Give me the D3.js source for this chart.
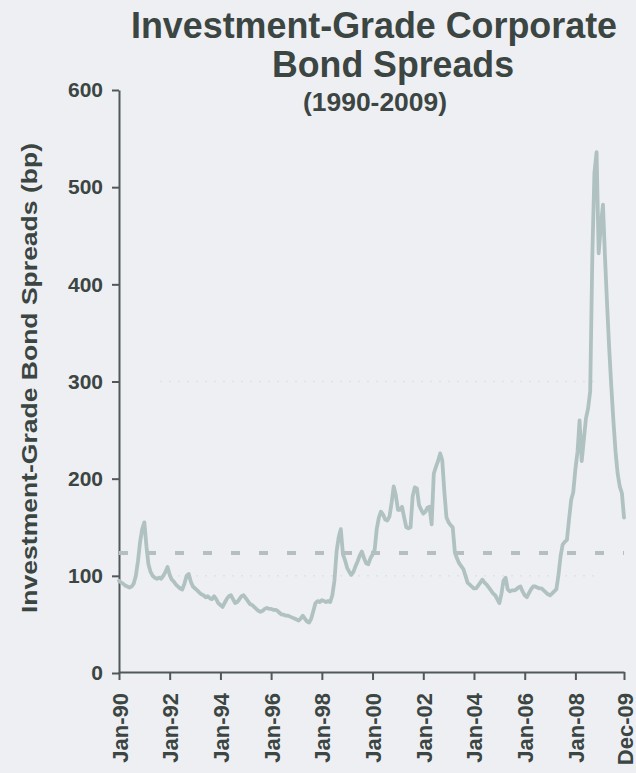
<!DOCTYPE html>
<html>
<head>
<meta charset="utf-8">
<script src="https://cdn.jsdelivr.net/npm/d3@7"></script>
<style>
  html, body { margin: 0; padding: 0; background: #eeeff3; }
  svg { display: block; }
  text { font-family: "Liberation Sans", Arial, "Helvetica", sans-serif; font-weight: bold; }
</style>
</head>
<body>
<svg id="chart" width="636" height="773"></svg>
<script>
// ---------------- DATA ----------------
const startYear = 1990;
// Monthly investment-grade spreads (bp), Jan 1990 .. Dec 2009
const spreads1990s = [
  95, 93, 92, 90, 89, 88, 89, 92, 100, 115, 135, 148,      // 1990
  155, 130, 112, 104, 100, 98, 97, 98, 97, 100, 104, 109,  // 1991
  101, 96, 94, 91, 89, 87, 86, 92, 100, 102, 94, 89,       // 1992
  87, 85, 83, 81, 80, 78, 79, 77, 76, 79, 76, 72,          // 1993
  70, 68, 72, 76, 79, 80, 76, 72, 73, 76, 79, 80,          // 1994
  77, 74, 71, 70, 68, 66, 64, 63, 64, 66, 67, 66,          // 1995
  66, 65, 65, 64, 62, 60, 60, 59, 59, 58, 57, 56,          // 1996
  55, 54, 56, 59, 56, 53, 52, 56, 64, 72, 74, 73,          // 1997
  75, 74, 73, 74, 73, 80, 95, 125, 140, 148, 122, 116,     // 1998
  108, 104, 101, 104, 110, 115, 121, 125, 118, 113, 112, 118 // 1999
];
const spreads2000s = [
  122, 127, 148, 160, 166, 163, 158, 157, 161, 175, 192, 183, // 2000
  168, 168, 171, 160, 150, 149, 150, 182, 191, 190, 173, 168, // 2001
  164, 166, 170, 171, 153, 205, 212, 218, 226, 219, 186, 160, // 2002
  155, 152, 150, 124, 118, 113, 110, 107, 100, 93, 91, 89,    // 2003
  87, 87, 90, 93, 96, 93, 91, 88, 85, 82, 80, 76,             // 2004
  72, 82, 95, 98, 86, 84, 85, 85, 86, 88, 89, 84,             // 2005
  80, 78, 82, 86, 89, 89, 88, 87, 87, 85, 83, 81,             // 2006
  80, 82, 84, 86, 100, 120, 132, 135, 137, 158, 178, 186,     // 2007
  210, 228, 260, 218, 240, 262, 272, 290, 430, 515, 536, 432, // 2008
  460, 482, 430, 380, 335, 295, 260, 228, 205, 192, 185, 160  // 2009
];
const averageSpread = 123.5;
const yTickValues = [0, 100, 200, 300, 400, 500, 600];
const xTickLabels = ["Jan-90","Jan-92","Jan-94","Jan-96","Jan-98","Jan-00","Jan-02","Jan-04","Jan-06","Jan-08","Dec-09"];
const xTickMonths = [0, 24, 48, 72, 96, 120, 144, 168, 192, 216, 239];
const titleLines = ["Investment-Grade Corporate", "Bond Spreads"];
const subtitle = "(1990-2009)";
const yAxisTitle = "Investment-Grade Bond Spreads (bp)";

// ---------------- DRAW ----------------
const spreads = spreads1990s.concat(spreads2000s);
const series = spreads.map((v, i) => ({ date: new Date(startYear, i, 1), v }));

const svg = d3.select("#chart");
svg.append("rect").attr("width", 636).attr("height", 773).attr("fill", "#eeeff3");

const x = d3.scaleTime()
  .domain([new Date(1990, 0, 1), new Date(2009, 11, 1)])
  .range([119, 624]);
const y = d3.scaleLinear().domain([0, 600]).range([673, 90]);

const textColor = "#3b4542";
const axisColor = "#50585a";

// faint grid remnants
[100, 300].forEach(v => {
  svg.append("line")
    .attr("x1", 160).attr("x2", 600)
    .attr("y1", y(v)).attr("y2", y(v))
    .attr("stroke", "#dfe2e6").attr("stroke-width", 1.5)
    .attr("stroke-dasharray", "2,7");
});

// Title
const titleG = svg.append("g").attr("fill", textColor);
titleG.append("text").attr("x", 131).attr("y", 38)
  .attr("font-size", 36).attr("textLength", 486).attr("lengthAdjust", "spacingAndGlyphs")
  .text(titleLines[0]);
titleG.append("text").attr("x", 272).attr("y", 77)
  .attr("font-size", 36).attr("textLength", 242).attr("lengthAdjust", "spacingAndGlyphs")
  .text(titleLines[1]);
titleG.append("text").attr("x", 303).attr("y", 111)
  .attr("font-size", 25).attr("textLength", 144).attr("lengthAdjust", "spacingAndGlyphs")
  .text(subtitle);

// Y axis title
svg.append("text")
  .attr("transform", "translate(37,378) rotate(-90)")
  .attr("text-anchor", "middle")
  .attr("font-size", 22)
  .attr("fill", textColor)
  .attr("textLength", 470).attr("lengthAdjust", "spacingAndGlyphs")
  .text(yAxisTitle);

// Y axis
const yAxis = svg.append("g")
  .attr("transform", "translate(119,0)")
  .call(d3.axisLeft(y).tickValues(yTickValues).tickSize(7).tickPadding(9).tickSizeOuter(0));
yAxis.select(".domain").attr("stroke", axisColor).attr("stroke-width", 2);
yAxis.selectAll(".tick line").attr("stroke", axisColor).attr("stroke-width", 2);
yAxis.selectAll(".tick text")
  .attr("font-size", 21).attr("fill", textColor)
  .attr("font-family", "'Liberation Sans', Arial, sans-serif").attr("font-weight", "bold");

// X axis
const xTickDates = xTickMonths.map(m => new Date(startYear, m, 1));
const xAxis = svg.append("g")
  .attr("transform", "translate(0,672)")
  .call(d3.axisBottom(x).tickValues(xTickDates).tickSize(8).tickSizeOuter(0)
    .tickFormat((d, i) => xTickLabels[i]));
xAxis.select(".domain").attr("stroke", axisColor).attr("stroke-width", 2);
xAxis.selectAll(".tick line").attr("stroke", axisColor).attr("stroke-width", 2);
xAxis.selectAll(".tick text")
  .attr("font-size", 22).attr("fill", textColor)
  .attr("font-family", "'Liberation Sans', Arial, sans-serif").attr("font-weight", "bold")
  .attr("text-anchor", "end")
  .attr("x", 0).attr("y", 0).attr("dy", null)
  .attr("transform", "translate(8,21) rotate(-90)");

// Average dashed line
svg.append("line")
  .attr("x1", 119).attr("x2", 624)
  .attr("y1", y(averageSpread)).attr("y2", y(averageSpread))
  .attr("stroke", "#b7bec0").attr("stroke-width", 4)
  .attr("stroke-dasharray", "9,19");

// Spread line
const line = d3.line().x(d => x(d.date)).y(d => y(d.v)).curve(d3.curveLinear);
svg.append("path")
  .datum(series)
  .attr("d", line)
  .attr("fill", "none")
  .attr("stroke", "#b0c1c1")
  .attr("stroke-width", 3.8)
  .attr("stroke-linejoin", "round")
  .attr("stroke-linecap", "round");
</script>
</body>
</html>
